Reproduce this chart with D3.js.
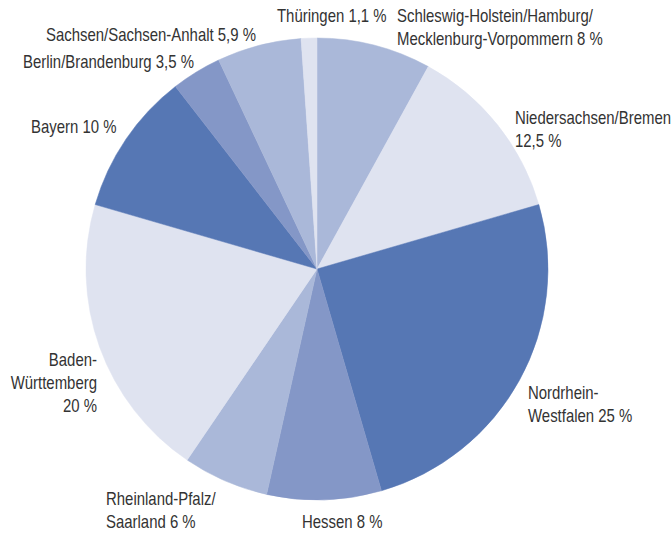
<!DOCTYPE html>
<html>
<head>
<meta charset="utf-8">
<script src="https://cdn.jsdelivr.net/npm/d3@7"></script>
<style>
  body { margin: 0; background: #fff; }
  text { font-family: "Liberation Sans", Arial, sans-serif; font-size: 18px; fill: #333; }
</style>
</head>
<body>
<div id="chart"></div>
<script>
// Anteile nach Region, im Uhrzeigersinn ab 12 Uhr
regions = ["Schleswig-Holstein/Hamburg/Mecklenburg-Vorpommern", "Niedersachsen/Bremen", "Nordrhein-Westfalen",
  "Hessen", "Rheinland-Pfalz/Saarland", "Baden-Württemberg", "Bayern", "Berlin/Brandenburg",
  "Sachsen/Sachsen-Anhalt", "Thüringen"]
shares = [8, 12.5, 25, 8, 6, 20, 10, 3.5, 5.9, 1.1]
labelLines = [
  ["Schleswig-Holstein/Hamburg/", "Mecklenburg-Vorpommern 8 %"],
  ["Niedersachsen/Bremen", "12,5 %"],
  ["Nordrhein-", "Westfalen 25 %"],
  ["Hessen 8 %"],
  ["Rheinland-Pfalz/", "Saarland 6 %"],
  ["Baden-", "Württemberg", "20 %"],
  ["Bayern 10 %"],
  ["Berlin/Brandenburg 3,5 %"],
  ["Sachsen/Sachsen-Anhalt 5,9 %"],
  ["Thüringen 1,1 %"]
]

colors = ["#aab8d9", "#dfe3f0", "#5677b4", "#8497c7", "#aab8d9", "#dfe3f0", "#5677b4", "#8497c7", "#aab8d9", "#dfe3f0"]

// label placement (x, first baseline, anchor)
labelPos = [
  [397, 22, "start"], [515, 124, "start"], [528, 399, "start"], [302, 528, "start"], [106, 505, "start"],
  [97, 366, "end"], [31, 133, "start"], [23, 68, "start"], [46, 41, "start"], [277, 22, "start"]
]

width = 672
height = 534
cx = 317
cy = 269
radius = 231
lineH = 23
narrow = 0.83   // condensed look

svg = d3.select("#chart").append("svg")
  .attr("width", width)
  .attr("height", height)

data = regions.map(function(r, i) { return { region: r, value: shares[i], i: i } })

pie = d3.pie().sort(null).value(function(d) { return d.value })
arc = d3.arc().innerRadius(0).outerRadius(radius)

g = svg.append("g").attr("transform", "translate(" + cx + "," + cy + ")")

g.selectAll("path.slice")
  .data(pie(data))
  .enter()
  .append("path")
  .attr("class", "slice")
  .attr("d", arc)
  .attr("fill", function(d) { return colors[d.data.i] })
  .attr("stroke", function(d) { return colors[d.data.i] })
  .attr("stroke-width", 0.5)

labels = svg.selectAll("text.lbl")
  .data(data)
  .enter()
  .append("text")
  .attr("class", "lbl")
  .attr("text-anchor", function(d) { return labelPos[d.i][2] })
  .attr("transform", function(d) {
    return "translate(" + labelPos[d.i][0] + "," + labelPos[d.i][1] + ") scale(" + narrow + ",1)"
  })

labels.selectAll("tspan")
  .data(function(d) { return labelLines[d.i].map(function(l, k) { return { t: l, k: k } }) })
  .enter()
  .append("tspan")
  .attr("x", 0)
  .attr("y", function(d) { return d.k * lineH })
  .text(function(d) { return d.t })
</script>
</body>
</html>
